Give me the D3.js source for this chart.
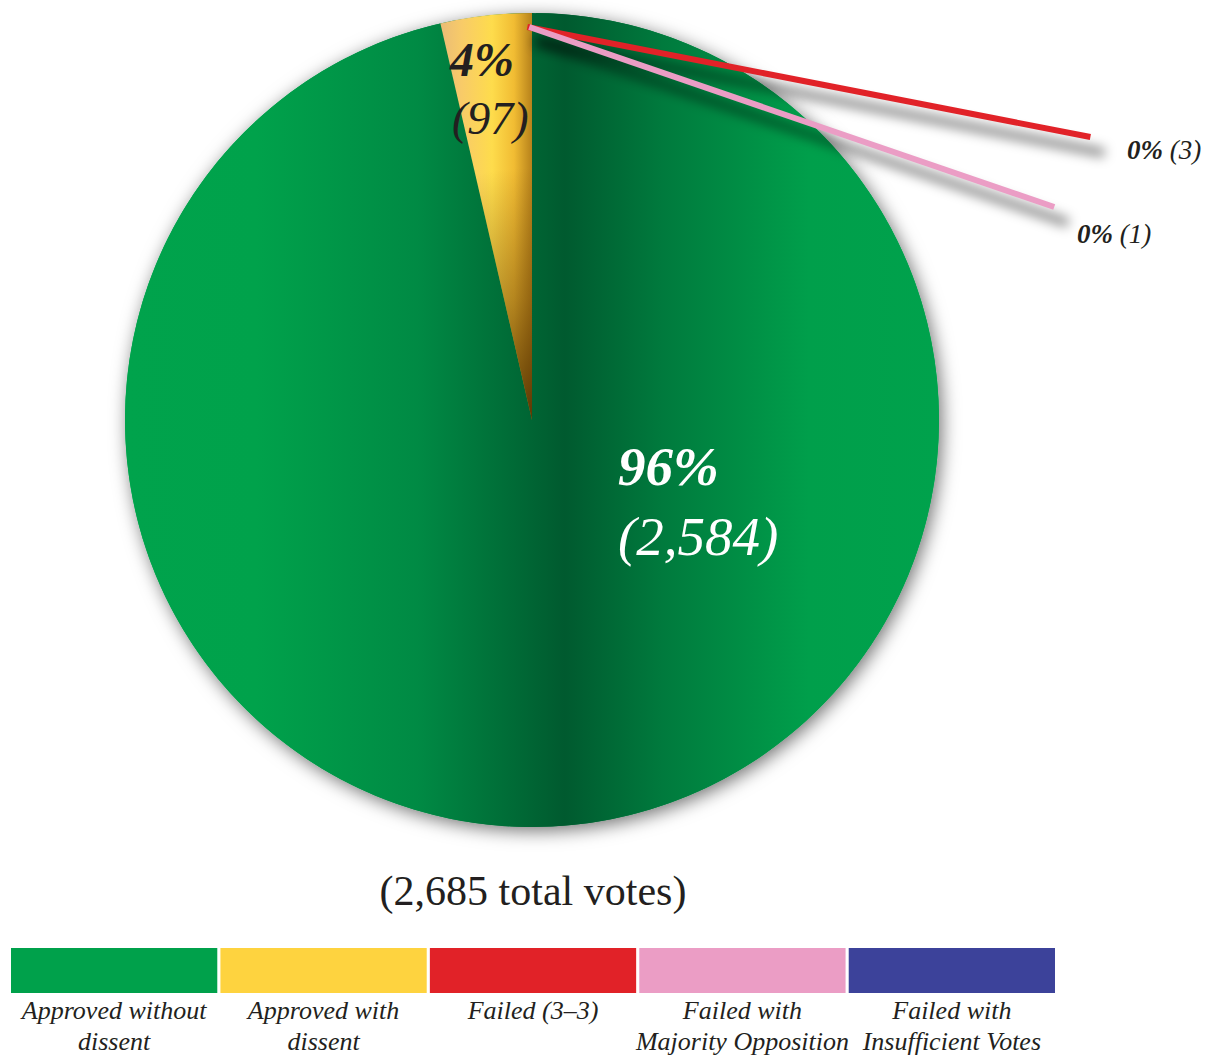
<!DOCTYPE html>
<html>
<head>
<meta charset="utf-8">
<script src="https://cdn.jsdelivr.net/npm/d3@7"></script>
<style>
  html, body { margin: 0; padding: 0; background: #ffffff; }
  svg { display: block; }
  text { font-family: "Liberation Serif", "Times New Roman", "DejaVu Serif", serif; }
</style>
</head>
<body>
<svg id="chart" width="1210" height="1055"></svg>
<script>
// ---- data ----
const categories = ["Approved without dissent", "Approved with dissent", "Failed (3–3)", "Failed with Majority Opposition", "Failed with Insufficient Votes"];
const legendLines = [["Approved without", "dissent"], ["Approved with", "dissent"], ["Failed (3–3)"], ["Failed with", "Majority Opposition"], ["Failed with", "Insufficient Votes"]];
const values = [2584, 97, 3, 1, 0];
const percentLabels = ["96%", "4%", "0%", "0%", "0%"];
const countLabels = ["(2,584)", "(97)", "(3)", "(1)", "(0)"];
const totalLabel = "(2,685 total votes)";
const legendColors = ["#00a14b", "#fed33f", "#e12228", "#eb9dc5", "#3c429a"];
const pieOrder = [2, 3, 4, 0, 1]; // clockwise from 12 o'clock

// ---- layout ----
const svg = d3.select("#chart");
const cx = 532, cy = 420, R = 407;

const defs = svg.append("defs");

const fs = defs.append("filter").attr("id", "pieShadow")
  .attr("x", "-20%").attr("y", "-20%").attr("width", "140%").attr("height", "140%");
fs.append("feDropShadow").attr("dx", 3).attr("dy", 4).attr("stdDeviation", 9)
  .attr("flood-color", "#000").attr("flood-opacity", 0.55);

const ls = defs.append("filter").attr("id", "lineShadow")
  .attr("x", "-50%").attr("y", "-50%").attr("width", "200%").attr("height", "200%");
ls.append("feGaussianBlur").attr("stdDeviation", 6);

const gg = defs.append("linearGradient").attr("id", "greenGrad")
  .attr("gradientUnits", "userSpaceOnUse")
  .attr("x1", -R).attr("x2", R).attr("y1", 0).attr("y2", 0);
[[0, "#00a34c"], [0.16, "#00a24b"], [0.36, "#008a44"], [0.54, "#005a2f"], [0.66, "#007a3d"], [0.84, "#009f4b"], [1, "#00a24c"]]
  .forEach(s => gg.append("stop").attr("offset", s[0]).attr("stop-color", s[1]));

const yg = defs.append("linearGradient").attr("id", "yellowGrad")
  .attr("gradientUnits", "userSpaceOnUse")
  .attr("x1", -100).attr("x2", 0).attr("y1", 0).attr("y2", 0);
[[0, "#e4b67c"], [0.3, "#f8cb68"], [0.6, "#fedc4c"], [0.82, "#f1bc33"], [1, "#b7821b"]]
  .forEach(s => yg.append("stop").attr("offset", s[0]).attr("stop-color", s[1]));

const rg = defs.append("radialGradient").attr("id", "apexDark")
  .attr("gradientUnits", "userSpaceOnUse")
  .attr("cx", 0).attr("cy", 0).attr("r", R);
[[0, "#4a2a00", 0.85], [0.3, "#5a3400", 0.4], [0.62, "#5a3400", 0]]
  .forEach(s => rg.append("stop").attr("offset", s[0]).attr("stop-color", s[1]).attr("stop-opacity", s[2]));

const ordered = pieOrder.map(i => ({ i, value: values[i] }));
const pie = d3.pie().sort(null).value(d => d.value).startAngle(0).endAngle(2 * Math.PI);
const arcs = pie(ordered);
const arc = d3.arc().innerRadius(0).outerRadius(R);

const g = svg.append("g").attr("transform", `translate(${cx},${cy})`);

// shadowed base disc (also fills under the hair-thin slices)
g.append("circle").attr("r", R).attr("fill", "url(#greenGrad)").attr("filter", "url(#pieShadow)");

const fillFor = i => i === 0 ? "url(#greenGrad)" : "url(#yellowGrad)";

// hair-thin slices (< 1%) are invisible in the pie; they are called out by leader lines
g.selectAll("path.slice").data(arcs.filter(a => a.data.value / d3.sum(values) >= 0.01)).join("path")
  .attr("class", "slice")
  .attr("d", arc)
  .attr("fill", d => fillFor(d.data.i));

g.selectAll("path.dark").data(arcs.filter(a => a.data.i === 1)).join("path")
  .attr("class", "dark")
  .attr("d", arc)
  .attr("fill", "url(#apexDark)");

// ---- leader lines for tiny slices ----
const leader = [
  { i: 2, dx: 563, dy: 110, lx: 1127, ly: 159 },
  { i: 3, dx: 525, dy: 180, lx: 1077, ly: 243 }
];
const leaderData = leader.map(l => {
  const a = arcs.find(d => d.data.i === l.i);
  const ang = (a.startAngle + a.endAngle) / 2;
  const r0 = R - 14;
  const sx = cx + r0 * Math.sin(ang) - 6;
  const sy = cy - r0 * Math.cos(ang);
  return Object.assign({}, l, { sx, sy, ex: sx + l.dx, ey: sy + l.dy });
});

svg.append("g").selectAll("line").data(leaderData).join("line")
  .attr("x1", d => d.sx + 8).attr("y1", d => d.sy + 14)
  .attr("x2", d => d.ex + 14).attr("y2", d => d.ey + 16)
  .attr("stroke", "#000").attr("stroke-opacity", 0.45)
  .attr("stroke-width", 9).attr("filter", "url(#lineShadow)");

svg.append("g").selectAll("line").data(leaderData).join("line")
  .attr("x1", d => d.sx).attr("y1", d => d.sy)
  .attr("x2", d => d.ex).attr("y2", d => d.ey)
  .attr("stroke", d => legendColors[d.i]).attr("stroke-width", 6);

const ll = svg.append("g").selectAll("text").data(leaderData).join("text")
  .attr("x", d => d.lx).attr("y", d => d.ly)
  .attr("font-size", 27).attr("fill", "#231f20").attr("font-style", "italic");
ll.append("tspan").attr("font-weight", "bold").text(d => percentLabels[d.i]);
ll.append("tspan").text(d => " " + countLabels[d.i]);

// ---- slice labels ----
svg.append("text").attr("x", 450).attr("y", 76)
  .attr("font-size", 48).attr("font-weight", "bold").attr("font-style", "italic")
  .attr("fill", "#231f20").text(percentLabels[1]);
svg.append("text").attr("x", 452).attr("y", 134)
  .attr("font-size", 46).attr("font-style", "italic")
  .attr("fill", "#231f20").text(countLabels[1]);

svg.append("text").attr("x", 618).attr("y", 485)
  .attr("font-size", 55).attr("font-weight", "bold").attr("font-style", "italic")
  .attr("fill", "#ffffff").text(percentLabels[0]);
svg.append("text").attr("x", 618).attr("y", 555)
  .attr("font-size", 55).attr("font-style", "italic")
  .attr("fill", "#ffffff").text(countLabels[0]);

svg.append("text").attr("x", 533).attr("y", 905).attr("text-anchor", "middle")
  .attr("font-size", 42).attr("fill", "#231f20").text(totalLabel);

// ---- legend ----
const lx = d3.scaleBand().domain(categories).range([11, 1055]).paddingInner(0.015);
const leg = svg.append("g").selectAll("g").data(categories).join("g")
  .attr("transform", d => `translate(${lx(d)},0)`);
leg.append("rect").attr("y", 948).attr("height", 45)
  .attr("width", lx.bandwidth()).attr("fill", (d, i) => legendColors[i]);
leg.append("text").attr("text-anchor", "middle")
  .attr("x", lx.bandwidth() / 2)
  .attr("font-size", 26).attr("font-style", "italic").attr("fill", "#231f20")
  .selectAll("tspan").data((d, i) => legendLines[i]).join("tspan")
  .attr("x", lx.bandwidth() / 2)
  .attr("y", (d, j) => 1019 + j * 31)
  .text(d => d);
</script>
</body>
</html>
